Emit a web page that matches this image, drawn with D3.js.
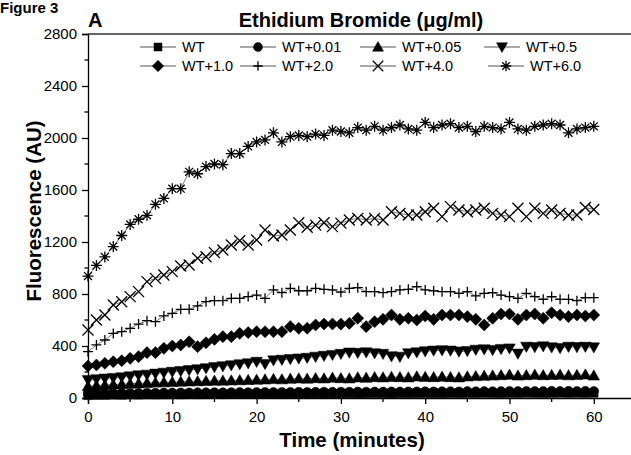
<!DOCTYPE html>
<html>
<head>
<meta charset="utf-8">
<script src="https://cdn.jsdelivr.net/npm/d3@7"></script>
<style>
  body { margin: 0; background: #fff; }
  svg { font-family: "Liberation Sans", Arial, sans-serif; }
  .tick text { font-size: 15px; fill: #000; }
  .domain, .tick line { stroke: #000; }
</style>
</head>
<body>
<script>
//data
var minutes = [0, 1, 2, 3, 4, 5, 6, 7, 8, 9,
    10, 11, 12, 13, 14, 15, 16, 17, 18, 19,
    20, 21, 22, 23, 24, 25, 26, 27, 28, 29,
    30, 31, 32, 33, 34, 35, 36, 37, 38, 39,
    40, 41, 42, 43, 44, 45, 46, 47, 48, 49,
    50, 51, 52, 53, 54, 55, 56, 57, 58, 59, 60];

var wt = [20, 22, 22, 24, 23, 25, 24, 26, 25, 26,
    27, 26, 28, 27, 28, 29, 28, 30, 29, 30,
    30, 31, 30, 31, 32, 31, 32, 33, 32, 33,
    33, 34, 33, 34, 35, 34, 33, 35, 34, 35,
    36, 35, 34, 36, 35, 36, 35, 37, 36, 35,
    37, 36, 38, 37, 36, 37, 38, 37, 38, 37, 38];
var wt001 = [32, 34, 35, 36, 37, 37, 38, 39, 39, 40,
    40, 41, 41, 42, 42, 43, 42, 43, 44, 43,
    44, 45, 44, 45, 45, 46, 45, 46, 47, 46,
    47, 47, 48, 47, 48, 48, 49, 48, 49, 49,
    50, 49, 50, 50, 49, 51, 50, 51, 50, 51,
    52, 51, 52, 51, 52, 53, 52, 53, 52, 53, 52];
var wt005 = [90, 95, 100, 103, 106, 110, 112, 115, 118, 120,
    122, 125, 127, 128, 130, 132, 133, 135, 136, 138,
    140, 142, 145, 143, 147, 150, 148, 152, 150, 155,
    152, 150, 158, 155, 160, 158, 162, 160, 158, 165,
    162, 160, 163, 160, 158, 165, 168, 170, 172, 175,
    178, 172, 175, 178, 175, 176, 178, 174, 176, 180, 172];
var wt05 = [138, 145, 150, 155, 160, 168, 175, 180, 188, 195,
    202, 208, 215, 222, 230, 238, 245, 252, 260, 268,
    279, 262, 290, 295, 300, 305, 310, 318, 325, 332,
    340, 350, 348, 352, 345, 340, 322, 318, 345, 352,
    360, 365, 368, 365, 358, 362, 372, 375, 370, 378,
    382, 342, 395, 392, 398, 390, 385, 395, 392, 395, 390];
var wt10 = [246, 254, 267, 279, 287, 305, 318, 349, 349, 382,
    400, 408, 433, 395, 425, 451, 472, 472, 497, 503,
    510, 510, 510, 510, 549, 536, 536, 562, 569, 569,
    568, 574, 613, 549, 587, 605, 638, 605, 613, 600,
    631, 605, 638, 638, 638, 626, 605, 562, 613, 646,
    646, 605, 638, 646, 613, 656, 638, 626, 638, 631, 638];
var wt20 = [356, 408, 446, 497, 510, 536, 569, 595, 587, 631,
    651, 682, 682, 708, 741, 749, 749, 767, 767, 780,
    792, 767, 831, 810, 844, 825, 825, 844, 836, 831,
    814, 844, 849, 818, 818, 810, 818, 831, 836, 857,
    831, 825, 818, 818, 805, 818, 785, 805, 810, 792,
    780, 767, 805, 780, 759, 780, 759, 759, 749, 772, 772];
var wt40 = [523, 600, 638, 715, 740, 780, 818, 895, 920, 946,
    972, 1015, 1023, 1075, 1087, 1118, 1138, 1177, 1210, 1177,
    1215, 1292, 1246, 1254, 1292, 1348, 1313, 1330, 1348, 1318,
    1345, 1369, 1382, 1369, 1382, 1369, 1433, 1420, 1408, 1408,
    1433, 1459, 1395, 1472, 1446, 1433, 1446, 1459, 1420, 1408,
    1395, 1459, 1395, 1459, 1420, 1446, 1420, 1408, 1408, 1466, 1450];
var wt60 = [938, 1020, 1085, 1165, 1250, 1335, 1375, 1405, 1490, 1535,
    1610, 1610, 1740, 1725, 1780, 1800, 1795, 1880, 1880, 1935,
    1970, 1985, 2040, 1970, 2010, 2020, 2010, 2030, 2020, 2060,
    2050, 2040, 2080, 2060, 2090, 2060, 2080, 2100, 2070, 2060,
    2120, 2080, 2100, 2110, 2080, 2090, 2050, 2090, 2080, 2070,
    2120, 2070, 2060, 2090, 2100, 2110, 2100, 2040, 2070, 2080, 2090];

var seriesNames = ["WT", "WT+0.01", "WT+0.05", "WT+0.5", "WT+1.0", "WT+2.0", "WT+4.0", "WT+6.0"];
var seriesValues = [wt, wt001, wt005, wt05, wt10, wt20, wt40, wt60];
var seriesMarkers = ["square", "circle", "triUp", "triDown", "diamond", "plus", "cross", "star"];

var yTicks = [0, 400, 800, 1200, 1600, 2000, 2400, 2800];
var yMinor = [200, 600, 1000, 1400, 1800, 2200, 2600];
var xTicks = [0, 10, 20, 30, 40, 50, 60];
var xMinor = [5, 15, 25, 35, 45, 55];

var W = 631, H = 455;
var m = [34, 0, 57, 88]; //top right bottom left

var x = d3.scaleLinear()
    .domain([0, 65])
    .range([m[3], m[3] + 65 * 8.43]);
var y = d3.scaleLinear()
    .domain([0, 2800])
    .range([H - m[2], m[0]]);

var svg = d3.select("body")
    .append("svg")
    .attr("width", W)
    .attr("height", H);

// marker path, centred on 0,0
function markerPath(type, s) {
    var h = s / 2;
    if (type == "square") return "M" + (-h) + "," + (-h) + "h" + s + "v" + s + "h" + (-s) + "Z";
    if (type == "circle") return d3.symbol(d3.symbolCircle, Math.PI * h * h)();
    if (type == "triUp") return "M0," + (-h * 1.1) + "L" + (h * 1.1) + "," + (h * 0.85) + "L" + (-h * 1.1) + "," + (h * 0.85) + "Z";
    if (type == "triDown") return "M0," + (h * 1.1) + "L" + (h * 1.1) + "," + (-h * 0.85) + "L" + (-h * 1.1) + "," + (-h * 0.85) + "Z";
    if (type == "diamond") return "M0," + (-h * 1.15) + "L" + (h * 1.15) + ",0L0," + (h * 1.15) + "L" + (-h * 1.15) + ",0Z";
    if (type == "plus") return "M" + (-h) + ",0H" + h + "M0," + (-h) + "V" + h;
    if (type == "cross") return "M" + (-h) + "," + (-h) + "L" + h + "," + h + "M" + h + "," + (-h) + "L" + (-h) + "," + h;
    // asterisk
    var d = h * 0.72;
    return "M" + (-h) + ",0H" + h + "M0," + (-h) + "V" + h +
        "M" + (-d) + "," + (-d) + "L" + d + "," + d + "M" + d + "," + (-d) + "L" + (-d) + "," + d;
}
function isFilled(type) {
    return ["square", "circle", "triUp", "triDown", "diamond"].indexOf(type) >= 0;
}
function markerSize(type) {
    if (type == "square") return 8.5;
    if (type == "circle") return 9.5;
    if (type == "plus") return 10;
    if (type == "cross") return 11;
    if (type == "star") return 11;
    return 10.5;
}

//axes
var yAxis = d3.axisLeft(y).tickValues(yTicks).tickSize(6).tickPadding(5).tickFormat(d3.format("d"));
var gy = svg.append("g")
    .attr("transform", "translate(" + m[3] + ",0)")
    .call(yAxis);
gy.select(".domain").attr("stroke-width", 1.3);
gy.selectAll(".tick line").attr("stroke-width", 1.3);
gy.append("g").selectAll("line")
    .data(yMinor)
    .enter().append("line")
    .attr("x1", -3.5).attr("x2", 0)
    .attr("y1", function (d) { return y(d); })
    .attr("y2", function (d) { return y(d); })
    .attr("stroke", "#000").attr("stroke-width", 1.3);

var xAxis = d3.axisBottom(x).tickValues(xTicks).tickSize(6).tickPadding(7);
var gx = svg.append("g")
    .attr("transform", "translate(0," + y(0) + ")")
    .call(xAxis);
gx.select(".domain").attr("stroke-width", 1.3);
gx.selectAll(".tick line").attr("stroke-width", 1.3);
gx.append("g").selectAll("line")
    .data(xMinor)
    .enter().append("line")
    .attr("x1", function (d) { return x(d); })
    .attr("x2", function (d) { return x(d); })
    .attr("y1", 0).attr("y2", 4)
    .attr("stroke", "#000").attr("stroke-width", 1.3);

// top frame line
svg.append("line")
    .attr("x1", x(0)).attr("x2", x(65))
    .attr("y1", y(2800)).attr("y2", y(2800))
    .attr("stroke", "#333").attr("stroke-width", 1.5);

//series
var series = svg.append("g").selectAll(".series")
    .data(seriesValues)
    .enter().append("g")
    .attr("class", "series");

var line = d3.line()
    .x(function (d, i) { return x(minutes[i]); })
    .y(function (d) { return y(d); });

series.append("path")
    .attr("d", function (d) { return line(d); })
    .attr("fill", "none")
    .attr("stroke", "#555")
    .attr("stroke-width", 0.8);

series.each(function (vals, k) {
    var type = seriesMarkers[k];
    d3.select(this).selectAll("path.mk")
        .data(vals)
        .enter().append("path")
        .attr("class", "mk")
        .attr("transform", function (d, i) { return "translate(" + x(minutes[i]) + "," + y(d) + ")"; })
        .attr("d", markerPath(type, markerSize(type)))
        .attr("fill", isFilled(type) ? "#000" : "none")
        .attr("stroke", "#000")
        .attr("stroke-width", isFilled(type) ? 0.5 : 1.3);
});

//legend
var legCols = [140, 240, 360, 484];
var legRows = [47, 66];
var legend = svg.append("g").selectAll(".leg")
    .data(seriesNames)
    .enter().append("g")
    .attr("class", "leg")
    .attr("transform", function (d, i) {
        var c = i % 4, r = Math.floor(i / 4);
        var dx = (i == 7) ? 4 : 0;
        return "translate(" + (legCols[c] + dx) + "," + legRows[r] + ")";
    });
legend.append("line")
    .attr("x1", 0).attr("x2", 36)
    .attr("y1", 0).attr("y2", 0)
    .attr("stroke", "#555").attr("stroke-width", 1);
legend.append("path")
    .attr("transform", "translate(18,0)")
    .attr("d", function (d, i) { return markerPath(seriesMarkers[i], markerSize(seriesMarkers[i]) - 0.5); })
    .attr("fill", function (d, i) { return isFilled(seriesMarkers[i]) ? "#000" : "#fff"; })
    .attr("stroke", "#000")
    .attr("stroke-width", function (d, i) { return isFilled(seriesMarkers[i]) ? 0.5 : 1.3; });
legend.append("text")
    .attr("x", 42)
    .attr("y", 0)
    .attr("dy", "0.35em")
    .attr("font-size", 14.5)
    .text(function (d) { return d; });

//titles
svg.append("text")
    .attr("x", 0).attr("y", 13)
    .attr("font-size", 15).attr("font-weight", "bold")
    .text("Figure 3");
svg.append("text")
    .attr("x", 88).attr("y", 27)
    .attr("font-size", 20).attr("font-weight", "bold")
    .text("A");
svg.append("text")
    .attr("x", 361).attr("y", 27)
    .attr("text-anchor", "middle")
    .attr("font-size", 20).attr("font-weight", "bold")
    .text("Ethidium Bromide (\u03bcg/ml)");
svg.append("text")
    .attr("transform", "translate(41," + 211 + ") rotate(-90)")
    .attr("text-anchor", "middle")
    .attr("font-size", 20.5).attr("font-weight", "bold")
    .text("Fluorescence (AU)");
svg.append("text")
    .attr("x", 352).attr("y", 447)
    .attr("text-anchor", "middle")
    .attr("font-size", 20.5).attr("font-weight", "bold")
    .text("Time (minutes)");
</script>
</body>
</html>
